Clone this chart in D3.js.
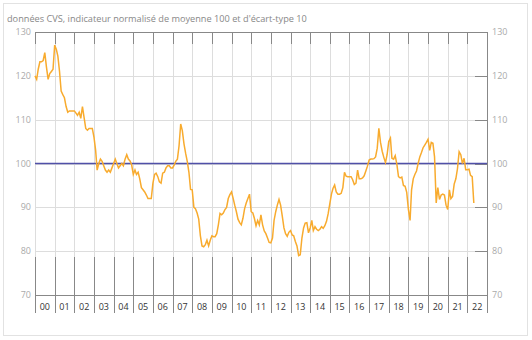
<!DOCTYPE html>
<html>
<head>
<meta charset="utf-8">
<script src="https://cdn.jsdelivr.net/npm/d3@7/dist/d3.min.js"></script>
<style>
    body { margin: 0; background: #fff; }
    svg { display: block; font-family: "Open Sans", sans-serif; }
</style>
</head>
<body>
<svg class="canvas" width="532" height="340"></svg>
<script>

var title = "données CVS, indicateur normalisé de moyenne 100 et d'écart-type 10"

var yearLabels = ["00","01","02","03","04","05","06","07","08","09","10","11",
                  "12","13","14","15","16","17","18","19","20","21","22"]

var yTicks = [70, 80, 90, 100, 110, 120, 130]

var refValue = 100

// monthly values, january 2000 onwards
var values = [
    120, 119.2, 121.5, 123.2, 123.2, 123.5, 125.3, 122, 119.2, 120.5, 121, 121.5,
    127, 126, 124.5, 121, 116.5, 115.7, 115, 113, 111.7, 112, 112, 112,
    112, 111.5, 111, 111.7, 110.3, 113, 110.5, 108, 107.6, 108, 108, 108,
    106, 103, 98.5, 100, 101, 100.5, 99.5, 98.5, 98, 98.5, 98, 99,
    100, 101, 100, 99, 99.5, 100, 99.5, 101, 102, 101, 100.6, 99.7,
    97.5, 98.5, 97.5, 98, 96.5, 94.5, 94, 93.5, 92.8, 92, 92, 92,
    95.5, 97.5, 97.8, 97, 95.8, 95.5, 97.8, 98, 99, 99.5, 99.5, 99,
    99, 99.7, 100.5, 101, 104, 109, 107.5, 104.5, 102.3, 100.5, 98, 94.1,
    94, 90, 89.7, 88.7, 87.3, 83.5, 81.2, 81, 81.5, 82.5, 81.2, 82.5,
    83.5, 83.3, 83.3, 84, 86, 88.6, 88.3, 88.7, 89.5, 90, 92, 92.9,
    93.5, 92, 90.5, 89, 87.3, 86.5, 86, 87.5, 89.7, 91, 92, 93,
    89, 88.7, 87.5, 85.8, 87, 86, 88.3, 86, 84.6, 84, 83, 82,
    81.9, 83, 87, 89, 90.5, 91.8, 90.5, 88, 85.3, 84, 83.4, 84.3,
    84.7, 83.7, 83.5, 82.2, 81.2, 79, 79.2, 83, 85.3, 86.4, 86.5, 84.2,
    85.3, 87, 84.7, 85.6, 85, 84.7, 85, 85.6, 85.2, 85.8, 86.8, 88.5,
    90.8, 93, 94.3, 95.1, 93.5, 93, 93, 93.2, 94.5, 98, 97.1, 97,
    97, 97, 96.3, 95.2, 95.5, 98.5, 96.5, 96.5, 96.7, 97.2, 98.3, 99.4,
    100.8, 101, 101, 101.1, 101.5, 103.5, 108, 104.8, 102.8, 101.4, 100.2, 102,
    105, 105.8, 101.2, 101, 101.8, 99.8, 97, 96.7, 96.9, 95, 94.8, 93.4,
    89.5, 87, 94, 96.5, 97.5, 98.3, 100, 101.5, 102.5, 103.6, 104.2, 104.8,
    105.5, 103, 104.8, 104.6, 101.5, 91, 94.5, 91.8, 92.8, 93, 92.8, 90.5,
    89.5, 94, 92, 92.5, 95.3, 96.5, 98.8, 102.7, 102, 100, 101.2, 98.6,
    98.6, 98.7, 97.3, 97, 91
]

var svg = d3.select('.canvas')

var plotLeft = 35, plotRight = 487, plotTop = 32, plotBottom = 295

var x = d3.scaleTime()
    .domain([new Date(2000, 0, 1), new Date(2000 + yearLabels.length, 0, 1)])
    .range([plotLeft, plotRight])

var y = d3.scaleLinear()
    .domain([d3.min(yTicks), d3.max(yTicks)])
    .range([plotBottom, plotTop])

var years = d3.range(0, yearLabels.length + 1).map(function(i) { return new Date(2000 + i, 0, 1) })

function px(d) { return Math.round(x(d)) + 0.5 }

// frame
svg.append("rect")
    .attr("x", 3.5).attr("y", 3.5)
    .attr("width", 524).attr("height", 332)
    .style("fill", "none")
    .style("stroke", "#e2e2e2")

svg.append("text")
    .attr("x", 7).attr("y", 22)
    .style("font-size", "9.2px")
    .style("fill", "#888")
    .text(title)

// grid
svg.selectAll(".hgrid")
    .data(yTicks)
    .enter()
    .append("line")
        .attr("x1", plotLeft).attr("x2", plotRight)
        .attr("y1", function(d) { return Math.round(y(d)) + 0.5 })
        .attr("y2", function(d) { return Math.round(y(d)) + 0.5 })
        .style("stroke", function(d) { return (d == 70 || d == 130) ? "#888" : "#ddd" })

svg.selectAll(".vgrid")
    .data(years)
    .enter()
    .append("line")
        .attr("x1", px).attr("x2", px)
        .attr("y1", plotTop).attr("y2", plotBottom)
        .style("stroke", "#ddd")

// ticks on the year boundaries
svg.selectAll(".ttick")
    .data(years)
    .enter()
    .append("line")
        .attr("x1", px).attr("x2", px)
        .attr("y1", plotTop).attr("y2", plotTop + 12)
        .style("stroke", "#888")

svg.selectAll(".btick")
    .data(years)
    .enter()
    .append("line")
        .attr("x1", px).attr("x2", px)
        .attr("y1", plotBottom - 38).attr("y2", plotBottom + 18)
        .style("stroke", "#888")

// right axis
svg.append("line")
    .attr("x1", plotRight + 0.5).attr("x2", plotRight + 0.5)
    .attr("y1", plotTop).attr("y2", plotBottom)
    .style("stroke", "#888")

svg.selectAll(".rtick")
    .data(yTicks)
    .enter()
    .append("line")
        .attr("x1", plotRight - 12).attr("x2", plotRight)
        .attr("y1", function(d) { return Math.round(y(d)) + 0.5 })
        .attr("y2", function(d) { return Math.round(y(d)) + 0.5 })
        .style("stroke", "#888")

svg.selectAll(".llabel")
    .data(yTicks)
    .enter()
    .append("text")
        .attr("x", plotLeft - 4)
        .attr("y", function(d) { return y(d) + 3 })
        .attr("text-anchor", "end")
        .style("font-size", "9px")
        .style("fill", "#aaa")
        .text(function(d) { return d })

svg.selectAll(".rlabel")
    .data(yTicks)
    .enter()
    .append("text")
        .attr("x", plotRight + 5)
        .attr("y", function(d) { return y(d) + 3 })
        .style("font-size", "9px")
        .style("fill", "#aaa")
        .text(function(d) { return d })

svg.selectAll(".xlabel")
    .data(yearLabels)
    .enter()
    .append("text")
        .attr("x", function(d, i) { return (x(years[i]) + x(years[i + 1])) / 2 })
        .attr("y", plotBottom + 15)
        .attr("text-anchor", "middle")
        .style("font-size", "9px")
        .style("fill", "#333")
        .text(function(d) { return d })

// reference line at 100
svg.append("line")
    .attr("x1", plotLeft).attr("x2", plotRight)
    .attr("y1", y(refValue)).attr("y2", y(refValue))
    .style("stroke", "#5050a8")
    .style("stroke-width", 1.5)

var line = d3.line()
    .x(function(d, i) { return x(new Date(2000, i, 1)) })
    .y(function(d) { return y(d) })

svg.append("path")
    .datum(values)
    .attr("d", line)
    .style("fill", "none")
    .style("stroke", "#f8ab2e")
    .style("stroke-width", 1.5)

</script>
</body>
</html>
